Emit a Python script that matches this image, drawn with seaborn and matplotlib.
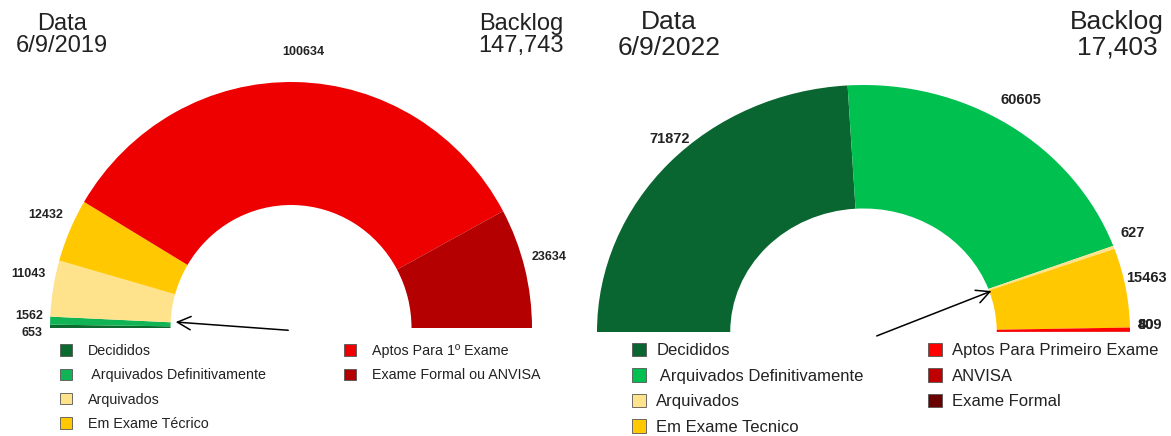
import seaborn as sns
import matplotlib.pyplot as plt
from matplotlib.patches import Patch

# 2019 chart
cats_2019 = ['Decididos', ' Arquivados Definitivamente', 'Arquivados',
             'Em Exame Técrico', 'Aptos Para 1º Exame', 'Exame Formal ou ANVISA']
vals_2019 = [653, 1562, 11043, 12432, 100634, 23634]
cols_2019 = ['#0b6b2e', '#11b455', '#ffe28c', '#ffc800', '#ee0000', '#b40000']
date_2019 = '6/9/2019'
backlog_2019 = '147,743'

# 2022 chart
cats_2022 = ['Decididos', ' Arquivados Definitivamente', 'Arquivados',
             'Em Exame Tecnico', 'Aptos Para Primeiro Exame', 'ANVISA', 'Exame Formal']
vals_2022 = [71872, 60605, 627, 15463, 809, 40, 8]
cols_2022 = ['#0a6631', '#00c050', '#ffe28c', '#ffc800', '#ff0000', '#c00000', '#6b0000']
date_2022 = '6/9/2022'
backlog_2022 = '17,403'

sns.set_theme(style='white')
plt.rcParams['font.family'] = ['Liberation Sans', 'DejaVu Sans']

W, H = 1171, 436
fig = plt.figure(figsize=(W / 100, H / 100), dpi=100)


def px_axes(x0, x1, ytop, ybot):
    return fig.add_axes([x0 / W, (H - ybot) / H, (x1 - x0) / W, (ybot - ytop) / H])


def half_donut(ax, vals, cols, fs):
    # invisible lower half so the visible slices fill 180 degrees
    total = sum(vals)
    wedges, texts = ax.pie(vals + [total], colors=cols + ['none'],
                           labels=[str(v) for v in vals] + [''],
                           startangle=180, counterclock=False, radius=1,
                           labeldistance=1.03,
                           wedgeprops=dict(width=0.5, linewidth=0),
                           textprops=dict(fontsize=fs, fontweight='bold', color='#222222'))
    ax.set_aspect('auto')
    ax.set_xlim(-1, 1)
    ax.set_ylim(0, 1)
    ax.axis('off')
    return texts


def place(texts, idx, x=None, y=None, ha=None):
    ox, oy = texts[idx].get_position()
    texts[idx].set_position((ox if x is None else x, oy if y is None else y))
    if ha:
        texts[idx].set_ha(ha)


# left chart
ax1 = px_axes(50, 532, 82, 328)
t1 = half_donut(ax1, vals_2019, cols_2019, 9)
place(t1, 0, y=-0.02)
place(t1, 1, y=0.05)
place(t1, 2, y=0.22)
place(t1, 3, y=0.46)
place(t1, 4, x=0.05, y=1.12, ha='center')
place(t1, 5, y=0.29)
ax1.annotate('', xy=(-0.49, 0.025), xytext=(0.0, -0.01),
             arrowprops=dict(arrowstyle='->', color='black', lw=1.1, mutation_scale=24),
             annotation_clip=False)

fig.text(62 / W, 1 - 24 / H, 'Data', ha='center', va='center', fontsize=17, color='#222222')
fig.text(62 / W, 1 - 46 / H, date_2019, ha='center', va='center', fontsize=17, color='#222222')
fig.text(521 / W, 1 - 24 / H, 'Backlog', ha='center', va='center', fontsize=17, color='#222222')
fig.text(521 / W, 1 - 46 / H, backlog_2019, ha='center', va='center', fontsize=17, color='#222222')

# right chart
ax2 = px_axes(597, 1130, 85, 332)
t2 = half_donut(ax2, vals_2022, cols_2022, 10.5)
place(t2, 0, x=-0.65, y=0.78)
place(t2, 1, x=0.515, y=0.94)
place(t2, 2, x=0.966, y=0.40)
place(t2, 3, x=0.985, y=0.22)
for i in (4, 5, 6):
    place(t2, i, x=1.03, y=0.03)

ax2.annotate('', xy=(0.49, 0.17), xytext=(0.04, -0.02),
             arrowprops=dict(arrowstyle='->', color='black', lw=1.1, mutation_scale=24),
             annotation_clip=False)

fig.text(669 / W, 1 - 22 / H, 'Data', ha='center', va='center', fontsize=19, color='#222222')
fig.text(669 / W, 1 - 48 / H, date_2022, ha='center', va='center', fontsize=19, color='#222222')
fig.text(1117 / W, 1 - 22 / H, 'Backlog', ha='center', va='center', fontsize=19, color='#222222')
fig.text(1117 / W, 1 - 48 / H, backlog_2022, ha='center', va='center', fontsize=19, color='#222222')


def legend_block(cats, cols, x, ytop, fs, spacing, pad):
    handles = [Patch(facecolor=c, edgecolor='#555555', linewidth=0.6) for c in cols]
    fig.legend(handles, cats, loc='upper left', bbox_to_anchor=(x / W, 1 - ytop / H),
               frameon=False, fontsize=fs, labelspacing=spacing, handlelength=0.85,
               handleheight=0.85, handletextpad=pad, borderpad=0, borderaxespad=0,
               labelcolor='#222222')


legend_block(cats_2019[:4], cols_2019[:4], 60, 344, 10.3, 0.72, 1.1)
legend_block(cats_2019[4:], cols_2019[4:], 344, 344, 10.3, 0.72, 1.1)
legend_block(cats_2022[:4], cols_2022[:4], 632, 343, 12, 0.6, 0.6)
legend_block(cats_2022[4:], cols_2022[4:], 928, 343, 12, 0.6, 0.6)

fig.savefig('out.png', dpi=100)
